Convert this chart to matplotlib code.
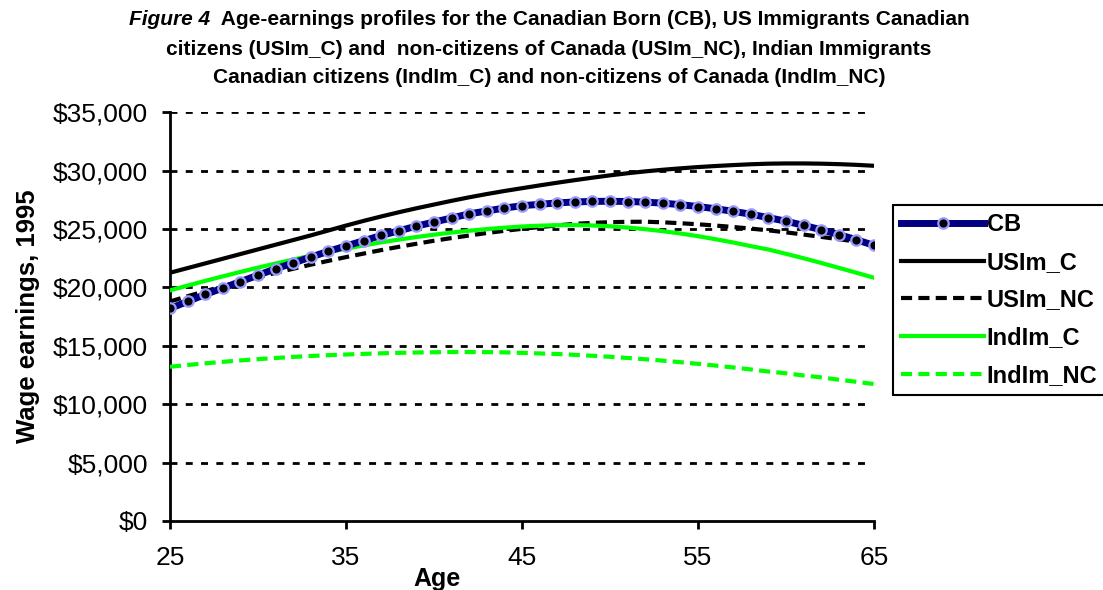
import matplotlib
matplotlib.use("Agg")
import matplotlib.pyplot as plt
from matplotlib.ticker import FuncFormatter, FixedLocator

plt.rcParams['font.family'] = ['Liberation Sans', 'DejaVu Sans']
plt.rcParams['lines.scale_dashes'] = False

ages = list(range(25, 66))

cb = [18.2, 18.8, 19.4, 19.95, 20.5, 21.05, 21.6, 22.1, 22.6, 23.1,
      23.55, 24.0, 24.45, 24.85, 25.25, 25.6, 25.95, 26.3, 26.55, 26.8,
      27.0, 27.12, 27.24, 27.32, 27.37, 27.38, 27.36, 27.31, 27.22, 27.09,
      26.93, 26.74, 26.52, 26.27, 25.98, 25.67, 25.32, 24.94, 24.53, 24.09,
      23.6]
usim_c = [21.26, 21.66, 22.06, 22.46, 22.86, 23.26, 23.66, 24.06, 24.46, 24.88,
          25.3, 25.7, 26.08, 26.44, 26.78, 27.1, 27.42, 27.72, 28.0, 28.26,
          28.5, 28.74, 28.97, 29.19, 29.4, 29.6, 29.78, 29.94, 30.08, 30.2,
          30.31, 30.4, 30.48, 30.55, 30.6, 30.62, 30.62, 30.6, 30.56, 30.5,
          30.42]
usim_nc = [18.8, 19.25, 19.68, 20.1, 20.5, 20.88, 21.25, 21.6, 21.95, 22.28,
           22.6, 22.9, 23.2, 23.48, 23.74, 24.0, 24.23, 24.45, 24.66, 24.85,
           25.02, 25.17, 25.31, 25.45, 25.53, 25.59, 25.62, 25.63, 25.58, 25.5,
           25.41, 25.3, 25.18, 25.04, 24.89, 24.72, 24.53, 24.33, 24.13, 23.93,
           23.72]
indim_c = [19.75, 20.16, 20.56, 20.95, 21.33, 21.7, 22.05, 22.39, 22.72, 23.03,
           23.32, 23.6, 23.86, 24.1, 24.32, 24.52, 24.7, 24.86, 25.0, 25.12,
           25.22, 25.29, 25.33, 25.34, 25.31, 25.24, 25.13, 24.99, 24.82, 24.62,
           24.39, 24.13, 23.85, 23.54, 23.25, 22.88, 22.5, 22.1, 21.68, 21.26,
           20.83]
indim_nc = [13.21, 13.36, 13.5, 13.63, 13.75, 13.86, 13.96, 14.05, 14.13, 14.2,
            14.26, 14.31, 14.36, 14.4, 14.43, 14.45, 14.47, 14.47, 14.46, 14.44,
            14.4, 14.35, 14.3, 14.23, 14.15, 14.06, 13.96, 13.85, 13.73, 13.6,
            13.46, 13.31, 13.15, 12.98, 12.8, 12.65, 12.46, 12.3, 12.1, 11.92,
            11.73]

series_names = ["CB", "USIm_C", "USIm_NC", "IndIm_C", "IndIm_NC"]
y_ticks = [0, 5000, 10000, 15000, 20000, 25000, 30000, 35000]
x_ticks = [25, 35, 45, 55, 65]

title_lines = [
    "Age-earnings profiles for the Canadian Born (CB), US Immigrants Canadian",
    "citizens (USIm_C) and  non-citizens of Canada (USIm_NC), Indian Immigrants",
    "Canadian citizens (IndIm_C) and non-citizens of Canada (IndIm_NC)",
]

W, H = 1103, 590
fig = plt.figure(figsize=(W / 100, H / 100), dpi=100)
ax = fig.add_axes([170 / W, 1 - 521 / H, (874 - 170) / W, (521 - 112.3) / H])

def k(v):
    return [x * 1000 for x in v]

l_usc, = ax.plot(ages, k(usim_c), color="black", lw=3, label=series_names[1], zorder=3)
l_usnc, = ax.plot(ages, k(usim_nc), color="black", lw=3, dashes=(8, 4.5), label=series_names[2], zorder=3)
l_inc, = ax.plot(ages, k(indim_c), color="#00FF00", lw=3, label=series_names[3], zorder=3)
l_innc, = ax.plot(ages, k(indim_nc), color="#00FF00", lw=3, dashes=(8, 4.5), label=series_names[4], zorder=3)
l_cb, = ax.plot(ages, k(cb), color="#000080", lw=5, marker="o", markersize=7.5,
                markerfacecolor="black", markeredgecolor="#9999FF", markeredgewidth=1.6,
                label=series_names[0], zorder=4)

ax.set_xlim(25, 65)
ax.set_ylim(0, 35000)
ax.yaxis.set_major_locator(FixedLocator(y_ticks))
ax.xaxis.set_major_locator(FixedLocator(x_ticks))
ax.yaxis.set_major_formatter(FuncFormatter(lambda v, p: "${:,.0f}".format(v)))
ax.xaxis.set_major_formatter(FuncFormatter(lambda v, p: "{:d}".format(int(round(v)))))

for s in ["top", "right"]:
    ax.spines[s].set_visible(False)
for s in ["left", "bottom"]:
    ax.spines[s].set_linewidth(2)
    ax.spines[s].set_color("black")

ax.tick_params(axis="both", direction="out", length=6, width=2, labelsize=19, colors="black")
ax.tick_params(axis="y", pad=10)
ax.tick_params(axis="x", pad=12)

for yv in y_ticks[1:]:
    ax.axhline(yv, xmin=0, xmax=0.989, color="black", lw=2, dashes=(5, 6), zorder=1)

fig.text(28 / W, 1 - 316 / H, "Wage earnings, 1995", rotation=90, fontsize=18.5,
         fontweight="bold", ha="center", va="center")
fig.text(437 / W, 1 - 579 / H, "Age", fontsize=18, fontweight="bold", ha="center", va="center")

# Title
fig.canvas.draw()
r = fig.canvas.get_renderer()
tsize = 15
cx = 549 / W
fig.text(cx, 1 - 55 / H, title_lines[1], fontsize=tsize, fontweight="bold", ha="center", va="baseline")
fig.text(cx, 1 - 83 / H, title_lines[2], fontsize=tsize, fontweight="bold", ha="center", va="baseline")
tfig = fig.text(0, 0, "Figure 4", fontsize=tsize, fontweight="bold", style="italic")
trest = fig.text(0, 0, "  " + title_lines[0], fontsize=tsize, fontweight="bold")
w1 = tfig.get_window_extent(renderer=r).width
w2 = trest.get_window_extent(renderer=r).width
x0 = cx * W - (w1 + w2) / 2
tfig.set_position((x0 / W, 1 - 25 / H))
tfig.set_va("baseline")
trest.set_position(((x0 + w1) / W, 1 - 25 / H))
trest.set_va("baseline")

handles = [l_cb, l_usc, l_usnc, l_inc, l_innc]
leg = fig.legend(handles, series_names, loc="upper left", bbox_to_anchor=(893 / W, 1 - 205 / H),
                 frameon=True, fancybox=False, edgecolor="black", framealpha=1,
                 prop={"weight": "bold", "size": 17}, handlelength=3.5, handletextpad=0.12,
                 labelspacing=0.62, borderpad=0.35, borderaxespad=0, numpoints=1)
leg.get_frame().set_linewidth(1.5)

fig.savefig("out.png", dpi=100)
